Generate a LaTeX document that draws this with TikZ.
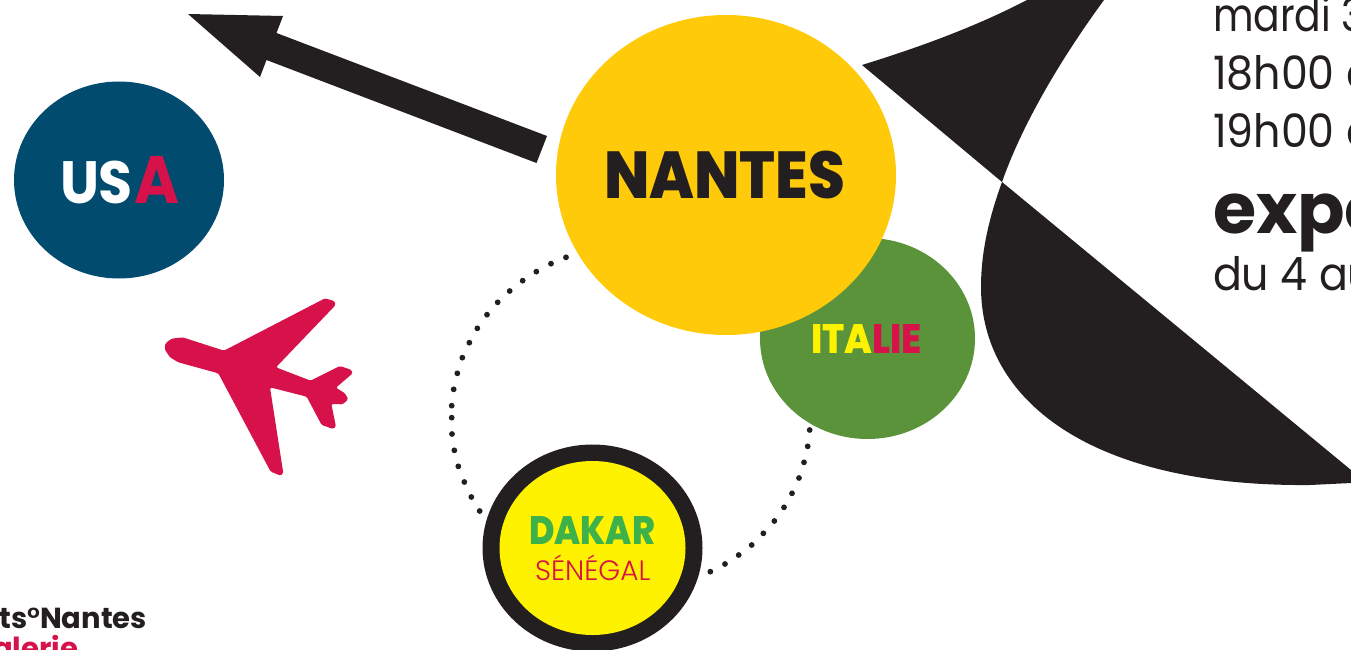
\documentclass[tikz,border=0pt]{standalone}
\usepackage{fontspec}
\usepackage{graphicx}
\usetikzlibrary{shapes.geometric}
\setmainfont{Poppins}
\newfontfamily\thinf{Poppins Light}
\newfontfamily\heavy{Poppins ExtraBold}
\newfontfamily\body{Poppins}[FakeStretch=0.93]
\definecolor{ink}{HTML}{231F20}
\definecolor{gold}{HTML}{FFCA0A}
\definecolor{navy}{HTML}{004B6E}
\definecolor{leaf}{HTML}{5B933B}
\definecolor{crim}{HTML}{D7124B}
\definecolor{lemon}{HTML}{FFF200}
\definecolor{grass}{HTML}{3DB14A}
\tikzset{
  blob/.style={ellipse,inner sep=0pt,outer sep=0pt,draw=none},
  lab/.style={inner sep=0pt,outer sep=0pt,anchor=base west},
  labe/.style={inner sep=0pt,outer sep=0pt,anchor=base east},
}
\newcommand{\fs}[1]{\fontsize{#1}{#1}\selectfont}
\begin{document}
\begin{tikzpicture}[x=1pt,y=-1pt]
\useasboundingbox (0,0) rectangle (1351,650);
\clip (0,0) rectangle (1351,650);
% ellipses
\node[blob,fill=navy,minimum width=210pt,minimum height=197pt] (usa) at (119,180) {};
\node[blob,fill=leaf,minimum width=215pt,minimum height=201pt] (italie) at (867.5,338.5) {};
\node[blob,fill=gold,minimum width=340pt,minimum height=320pt] (nantes) at (726,175) {};
\node[blob,fill=ink,minimum width=220pt,minimum height=207pt] (dakar) at (592.5,548) {};
\node[blob,fill=lemon,minimum width=186pt,minimum height=174pt] (dakarin) at (592.5,548) {};
% labels
\node[lab,text=ink] (tn) at (604,198) {\resizebox{241pt}{47.5pt}{\fs{66}\heavy NANTES}};
\node[lab,text=white] (tu) at (60,203) {\resizebox{73pt}{42.5pt}{\fs{62}\bfseries US}};
\node[lab,text=crim] (tua) at (134,203) {\resizebox{45pt}{47pt}{\fs{62}\bfseries A}};
\node[lab] (ti) at (811,353) {\resizebox{111pt}{29pt}{\fs{41}\heavy\textcolor{lemon}{ITA}\textcolor{crim}{LIE}}};
\node[lab,text=grass] (td) at (529,544) {\resizebox{126pt}{28pt}{\fs{39}\heavy DAKAR}};
\node[lab,text=crim] (ts) at (535,580) {\fs{28}\thinf SÉNÉGAL};
% dots
\foreach \a/\b in {378/52,333/71,289/95,248/122,209/153,173/187,141/224,112/265,88/308,67/353,52/400,41/448,35/497,35/533,36/582,43/631,55/679,73/726,94/771,119/813,1109/570,1103/619,1092/667,1077/714,1056/760,1032/802,1003/843,970/880,935/915,896/945,855/972,811/995}
  \fill[ink] ({440+\a/3},{240+\b/3}) circle (2.9pt);
% arrow
\fill[ink] (188,14) -- (283,16) -- (276.5,33) -- (547,136) -- (536.5,163) -- (266.5,60) -- (260,77) -- cycle;
% wing
\fill[ink] (862,65) .. controls (920,47) and (975,27) .. (1027,0) -- (1104,0) .. controls (1060,60) and (1022,125) .. (1002,182) -- cycle;
\fill[ink] (1002,182) .. controls (990,215) and (981,250) .. (981,287) .. controls (981,400) and (1090,487) .. (1310,485) -- (1351,483) -- (1351,470) -- cycle;
% plane
\fill[crim,rounded corners=1.5pt,shift={(150,280)},x=0.3333pt,y=-0.3333pt]
 (525,55) -- (553,63) -- (557,75) -- (378,262) -- (482,302) -- (570,258) -- (605,270) -- (608,280) -- (558,323) -- (585,340) -- (595,358) -- (578,373) -- (544,372) -- (558,440) -- (550,447) -- (515,435) -- (470,350) -- (360,322) -- (400,580) -- (392,587) -- (362,575) -- (205,280) -- (85,247) -- (60,232) -- (44,208) -- (46,190) -- (65,176) -- (98,172) -- (222,212) -- cycle;
% right text
\node[lab,text=ink] (r1) at (1213,32) {\scalebox{0.92}[1]{\fs{46}\body mardi 3}};
\node[lab,text=ink] (r2) at (1213,90) {\fs{46}\body 18h00 d};
\node[lab,text=ink] (r3) at (1213,147) {\fs{46}\body 19h00 d};
\node[lab,text=ink] (r4) at (1213,233) {\fs{70}\bfseries expo};
\node[lab,text=ink] (r5) at (1213,290) {\fs{46}\body du 4 au};
% bottom left
\node[labe,text=ink] (b1) at (147,628) {\fs{29}\bfseries ts{\thinf°}Nantes};
\node[labe,text=crim] (b2) at (78,658) {\fs{29}\bfseries alerie};
\end{tikzpicture}
\end{document}
